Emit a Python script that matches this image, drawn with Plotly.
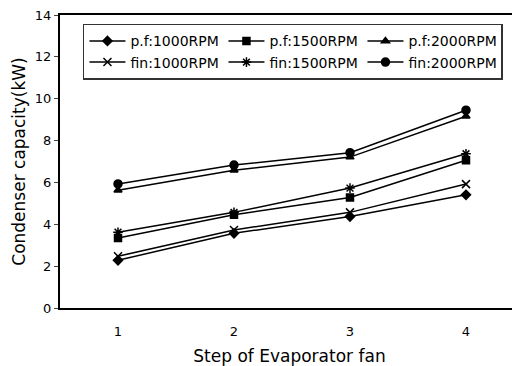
import plotly.graph_objects as go

steps = [1, 2, 3, 4]
pf_1000 = [2.28, 3.57, 4.37, 5.41]
pf_1500 = [3.35, 4.46, 5.28, 7.06]
pf_2000 = [5.63, 6.58, 7.21, 9.16]
fin_1000 = [2.47, 3.73, 4.57, 5.92]
fin_1500 = [3.62, 4.57, 5.73, 7.37]
fin_2000 = [5.93, 6.83, 7.42, 9.45]

series = [
    ("p.f:1000RPM", pf_1000, "diamond", 7),
    ("p.f:1500RPM", pf_1500, "square", 7),
    ("p.f:2000RPM", pf_2000, "triangle-up", 7),
    ("fin:1000RPM", fin_1000, "x-thin-open", 8),
    ("fin:1500RPM", fin_1500, "asterisk-open", 8),
    ("fin:2000RPM", fin_2000, "circle", 8),
]

fig = go.Figure()
for name, vals, sym, sz in series:
    fig.add_trace(go.Scatter(
        x=steps, y=vals, name=name, mode="lines+markers",
        line=dict(color="black", width=1.5),
        marker=dict(symbol=sym, size=sz, color="black",
                    line=dict(color="black", width=1.5)),
    ))

fig.update_layout(
    width=520, height=366,
    margin=dict(l=52, r=9, t=7, b=66),
    paper_bgcolor="white", plot_bgcolor="white",
    font=dict(family="DejaVu Sans, sans-serif", color="black", size=13),
    legend=dict(
        orientation="h", x=0.05, y=0.97, xanchor="left", yanchor="top",
        entrywidth=88, entrywidthmode="pixels",
        bordercolor="#333", borderwidth=1.5, bgcolor="white",
        font=dict(size=14), itemwidth=36, tracegroupgap=0,
    ),
    xaxis=dict(
        range=[0.5, 4.457], tickvals=[1, 2, 3, 4], ticktext=["1", "2", "3", "4"],
        showline=True, linecolor="black", linewidth=2, mirror=True,
        showgrid=False, zeroline=False, ticks="", automargin=False,
        ticklabelstandoff=10, ticklabeloverflow="allow",
        title=dict(text="Step of Evaporator fan", font=dict(size=17), standoff=13),
        tickfont=dict(size=13),
    ),
    yaxis=dict(
        range=[0, 14], dtick=2, automargin=False,
        showline=True, linecolor="black", linewidth=2,
        showgrid=False, zeroline=False, ticks="outside", ticklen=4,
        ticklabeloverflow="allow",
        title=dict(text="Condenser capacity(kW)", font=dict(size=17), standoff=5),
        tickfont=dict(size=13),
    ),
)

fig.write_html("out.html")
